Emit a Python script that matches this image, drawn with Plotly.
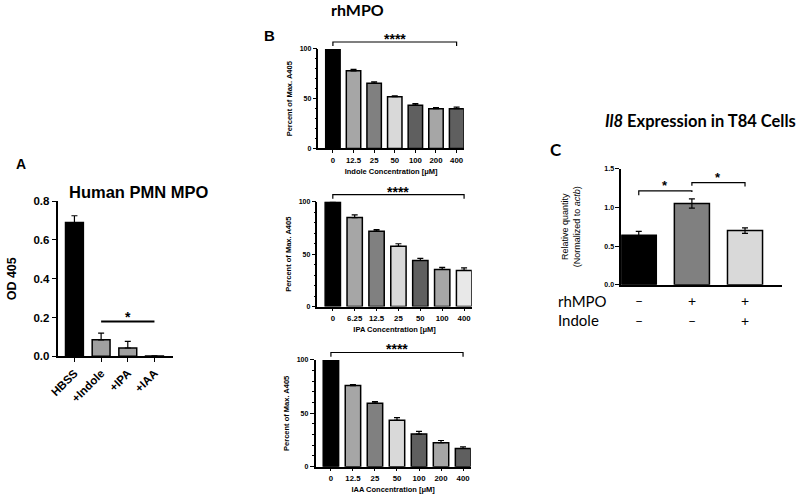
import plotly.graph_objects as go

# Panel A - Human PMN MPO
pmn_groups = ["HBSS", "+Indole", "+IPA", "+IAA"]
pmn_od = [0.69, 0.085, 0.043, 0.002]
pmn_err = [0.035, 0.035, 0.034, 0.0]

# Panel B - rhMPO inhibition
indole_conc = ["0", "12.5", "25", "50", "100", "200", "400"]
indole_pct = [100, 78, 65.5, 52, 43.5, 40, 40]
indole_err = [0, 1.5, 1.5, 1, 1.5, 1.2, 1.5]

ipa_conc = ["0", "6.25", "12.5", "25", "50", "100", "400"]
ipa_pct = [100, 85, 72, 57.5, 44, 35.5, 34.5]
ipa_err = [0, 2.5, 1.5, 2.5, 2, 2, 2.5]

iaa_conc = ["0", "12.5", "25", "50", "100", "200", "400"]
iaa_pct = [100, 76, 59.5, 43.5, 30.5, 22.5, 17]
iaa_err = [0, 1, 1.5, 2.5, 2.5, 2, 1.5]

# Panel C - Il8 expression
il8_groups = ["ctrl", "rhMPO", "rhMPO+Indole"]
il8_rq = [0.64, 1.05, 0.70]
il8_err = [0.05, 0.06, 0.035]
rhmpo_signs = ["–", "+", "+"]
indole_signs = ["–", "–", "+"]

ARIAL = "Liberation Sans, Arial, sans-serif"
CALIBRI = "Lato, Noto Sans, sans-serif"

GRAYS_B = ["#000000", "#a6a6a6", "#808080", "#d9d9d9", "#5f5f5f", "#a6a6a6", "#5f5f5f"]
GRAYS_IPA = ["#000000", "#a6a6a6", "#808080", "#d9d9d9", "#5f5f5f", "#a6a6a6", "#e8e8e8"]


def bar(x, y, err, colors, axis, width, symmetric=False):
    n = len(y)
    ey = dict(type="data", array=err, color="black", thickness=1.2, width=3)
    if symmetric:
        ey["symmetric"] = True
    else:
        ey["symmetric"] = False
        ey["arrayminus"] = [0] * n
    return go.Bar(
        x=x, y=y, width=width,
        marker=dict(color=colors, line=dict(color="black", width=1.5)),
        error_y=ey,
        xaxis="x" + axis, yaxis="y" + axis,
        showlegend=False,
    )


fig = go.Figure()
fig.add_trace(bar(pmn_groups, pmn_od, pmn_err,
                  ["#000000", "#a0a0a0", "#a0a0a0", "#a0a0a0"], "", 0.67))
fig.add_trace(bar(indole_conc, indole_pct, indole_err, GRAYS_B, "2", 0.7))
fig.add_trace(bar(ipa_conc, ipa_pct, ipa_err, GRAYS_IPA, "3", 0.7))
fig.add_trace(bar(iaa_conc, iaa_pct, iaa_err, GRAYS_B, "4", 0.7))
fig.add_trace(bar(il8_groups, il8_rq, il8_err,
                  ["#000000", "#808080", "#d9d9d9"], "5", 0.66, symmetric=True))

base_ax = dict(showline=True, linecolor="black", linewidth=1.5, showgrid=False,
               zeroline=False, ticks="outside", tickcolor="black", tickwidth=1.2)

small_tick = dict(family=ARIAL, size=7, color="black", weight="bold")
small_title = dict(family=ARIAL, size=7.5, color="black", weight="bold")


def b_y(domain, anchor):
    return dict(base_ax, domain=domain, anchor=anchor, range=[0, 100], dtick=50,
                ticklen=4, tickfont=small_tick,
                minor=dict(dtick=10, ticks="outside", ticklen=2, tickcolor="black", tickwidth=1),
                title=dict(text="Percent of Max. A405", font=small_title, standoff=6))


def b_x(domain, anchor, cats, title):
    return dict(base_ax, type="category", domain=domain, anchor=anchor,
                range=[-0.7, 6.35], ticklen=3, categoryorder="array", categoryarray=cats,
                tickfont=dict(family=ARIAL, size=7.8, color="black", weight="bold"),
                title=dict(text=title, font=small_title, standoff=5))


fig.update_layout(
    width=800, height=499,
    margin=dict(l=0, r=0, t=0, b=0),
    plot_bgcolor="white", paper_bgcolor="white",
    bargap=0.3,
    xaxis=dict(base_ax, type="category", domain=[0.0625, 0.2075], anchor="y",
               range=[-0.6, 3.7], ticklen=4, tickangle=-45,
               tickfont=dict(family=ARIAL, size=11.5, color="black", weight="bold")),
    yaxis=dict(base_ax, domain=[0.2806, 0.5992], anchor="x", range=[0, 0.8],
               dtick=0.2, tickformat=".1f", ticklen=5,
               tickfont=dict(family=ARIAL, size=11.5, color="black", weight="bold"),
               title=dict(text="OD 405", font=dict(family=ARIAL, size=12.5, color="black", weight="bold"),
                          standoff=14)),
    xaxis2=b_x([0.39125, 0.575], "y2", indole_conc, "Indole Concentration [μM]"),
    yaxis2=b_y([0.7074, 0.9118], "x2"),
    xaxis3=b_x([0.39, 0.585], "y3", ipa_conc, "IPA Concentration [μM]"),
    yaxis3=b_y([0.3828, 0.5978], "x3"),
    xaxis4=b_x([0.3875, 0.58375], "y4", iaa_conc, "IAA Concentration [μM]"),
    yaxis4=b_y([0.0541, 0.2732], "x4"),
    xaxis5=dict(base_ax, type="category", domain=[0.774, 0.9775], anchor="y5",
                range=[-0.33, 2.7], ticks="", showticklabels=False),
    yaxis5=dict(base_ax, domain=[0.4275, 0.666], anchor="x5", range=[0, 1.5],
                dtick=0.5, tickformat=".1f", ticklen=4, tickfont=small_tick,
                title=dict(text="Relative quantity<br>(Normalized to <i>actb</i>)",
                           font=dict(family=ARIAL, size=9, color="black"), standoff=22)),
)

# significance marks
line = dict(color="black", width=1.2)
# panel A
fig.add_shape(type="line", xref="x", yref="y", x0=pmn_groups[1], x1=pmn_groups[3],
              y0=0.18, y1=0.18, line=dict(color="black", width=2))
fig.add_annotation(xref="x", yref="y", x=2, y=0.18, text="*", showarrow=False, yanchor="bottom",
                   yshift=-6, font=dict(family=ARIAL, size=14, color="black", weight="bold"))

# panel B brackets
for ax, cats in (("2", indole_conc), ("3", ipa_conc), ("4", iaa_conc)):
    xr, yr = "x" + ax, "y" + ax + " domain"
    fig.add_shape(type="path", xref=xr, yref=yr,
                  path="M 0,1.03 L 0,1.07 L 6,1.07 L 6,1.03", line=line)
    fig.add_annotation(xref=xr, yref=yr, x=3, y=1.07, text="****", showarrow=False,
                       yanchor="bottom", yshift=-7,
                       font=dict(family=ARIAL, size=14, color="black", weight="bold"))

# panel C brackets
fig.add_shape(type="path", xref="x5", yref="y5", path="M 0,1.155 L 0,1.214 L 1,1.214 L 1,1.2",
              line=line)
fig.add_shape(type="path", xref="x5", yref="y5", path="M 1,1.28 L 1,1.32 L 2,1.32 L 2,1.27",
              line=line)
fig.add_annotation(xref="x5", yref="y5", x=0.5, y=1.214, text="*", showarrow=False, yanchor="bottom",
                   yshift=-4, font=dict(family=ARIAL, size=13, color="black", weight="bold"))
fig.add_annotation(xref="x5", yref="y5", x=1.5, y=1.32, text="*", showarrow=False, yanchor="bottom",
                   yshift=-4, font=dict(family=ARIAL, size=13, color="black", weight="bold"))

# treatment table under panel C
fig.add_annotation(xref="paper", yref="paper", x=0.691, y=0.3948, text="rhMPO", showarrow=False,
                   xanchor="left", yanchor="middle", font=dict(family=CALIBRI, size=15, color="black"))
fig.add_annotation(xref="paper", yref="paper", x=0.691, y=0.3547, text="Indole", showarrow=False,
                   xanchor="left", yanchor="middle", font=dict(family=CALIBRI, size=15, color="black"))
for i, g in enumerate(il8_groups):
    fig.add_annotation(xref="x5", yref="paper", x=g, y=0.3948, text=rhmpo_signs[i], showarrow=False,
                       yanchor="middle", font=dict(family=CALIBRI, size=14, color="black"))
    fig.add_annotation(xref="x5", yref="paper", x=g, y=0.3547, text=indole_signs[i], showarrow=False,
                       yanchor="middle", font=dict(family=CALIBRI, size=14, color="black"))

# titles and panel letters
texts = [
    (0.00625, 0.6693, "A", ARIAL, 14, "left", 3),
    (0.1646, 0.6138, "Human PMN MPO", ARIAL, 16.5, "center", 2),
    (0.329, 0.9265, "B", ARIAL, 15, "center", 6),
    (0.441, 0.9834, "rhMPO", CALIBRI, 16, "center", 5),
    (0.6916, 0.6994, "C", CALIBRI, 17, "center", 3),
    (0.874, 0.756, "<i>Il8</i> Expression in T84 Cells", CALIBRI, 16.5, "center", 4),
]
for x, y, t, fam, size, xa, dy in texts:
    fig.add_annotation(xref="paper", yref="paper", x=x, y=y, text=t, showarrow=False,
                       xanchor=xa, yanchor="middle", yshift=dy,
                       font=dict(family=fam, size=size, color="black", weight="bold"))

fig.write_html("out.html", config={"displayModeBar": False},
               post_script="document.body.style.margin='0';")
